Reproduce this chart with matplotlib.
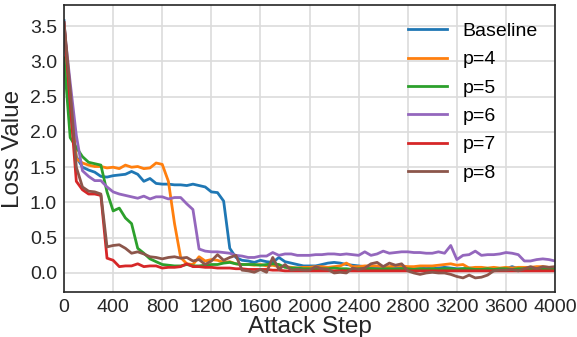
import numpy as np
import matplotlib
matplotlib.use("Agg")
import matplotlib.pyplot as plt

# attack steps, sampled every 50
steps = list(range(0, 4001, 50))

baseline = [3.58, 2.30, 1.65, 1.50, 1.46, 1.43, 1.37, 1.36, 1.38, 1.39,
            1.40, 1.44, 1.40, 1.30, 1.34, 1.27, 1.26, 1.26, 1.25, 1.25,
            1.24, 1.26, 1.24, 1.22, 1.15, 1.14, 1.02, 0.35, 0.22, 0.18,
            0.17, 0.15, 0.18, 0.16, 0.15, 0.22, 0.16, 0.14, 0.12, 0.10,
            0.10, 0.10, 0.12, 0.14, 0.15, 0.14, 0.12, 0.11, 0.10, 0.09,
            0.09, 0.08, 0.08, 0.08, 0.07, 0.07, 0.07, 0.06, 0.06, 0.07,
            0.06, 0.07, 0.08, 0.07, 0.06, 0.06, 0.07, 0.06, 0.06, 0.06,
            0.05, 0.06, 0.06, 0.09, 0.06, 0.07, 0.06, 0.08, 0.07, 0.07,
            0.08]

p4 = [3.50, 2.50, 1.62, 1.56, 1.53, 1.51, 1.51, 1.49, 1.50, 1.48,
      1.53, 1.50, 1.51, 1.48, 1.49, 1.56, 1.54, 1.30, 0.70, 0.22,
      0.13, 0.12, 0.23, 0.17, 0.19, 0.18, 0.15, 0.16, 0.13, 0.12,
      0.12, 0.11, 0.12, 0.10, 0.11, 0.09, 0.09, 0.08, 0.07, 0.08,
      0.08, 0.09, 0.09, 0.08, 0.09, 0.10, 0.14, 0.09, 0.09, 0.10,
      0.10, 0.10, 0.09, 0.09, 0.10, 0.10, 0.09, 0.09, 0.10, 0.10,
      0.10, 0.11, 0.12, 0.13, 0.11, 0.12, 0.07, 0.08, 0.08, 0.07,
      0.08, 0.07, 0.08, 0.07, 0.08, 0.08, 0.08, 0.09, 0.09, 0.08,
      0.08]

p5 = [3.05, 1.92, 1.78, 1.65, 1.57, 1.55, 1.53, 1.15, 0.88, 0.92,
      0.78, 0.70, 0.35, 0.28, 0.20, 0.16, 0.12, 0.11, 0.10, 0.10,
      0.12, 0.10, 0.10, 0.11, 0.12, 0.12, 0.14, 0.15, 0.13, 0.12,
      0.12, 0.12, 0.11, 0.12, 0.13, 0.12, 0.08, 0.07, 0.07, 0.06,
      0.06, 0.05, 0.06, 0.06, 0.07, 0.06, 0.06, 0.05, 0.06, 0.06,
      0.06, 0.05, 0.06, 0.06, 0.05, 0.06, 0.06, 0.05, 0.06, 0.05,
      0.06, 0.05, 0.06, 0.06, 0.05, 0.06, 0.06, 0.05, 0.05, 0.06,
      0.05, 0.06, 0.06, 0.05, 0.06, 0.06, 0.05, 0.06, 0.06, 0.05,
      0.06]

p6 = [3.50, 2.70, 1.95, 1.45, 1.37, 1.31, 1.31, 1.22, 1.15, 1.12,
      1.10, 1.08, 1.06, 1.09, 1.05, 1.08, 1.08, 1.05, 1.07, 1.07,
      0.98, 0.90, 0.34, 0.31, 0.30, 0.30, 0.29, 0.28, 0.25, 0.24,
      0.22, 0.22, 0.24, 0.24, 0.29, 0.25, 0.27, 0.27, 0.25, 0.25,
      0.25, 0.26, 0.26, 0.27, 0.27, 0.26, 0.27, 0.26, 0.25, 0.30,
      0.25, 0.27, 0.31, 0.28, 0.29, 0.30, 0.30, 0.29, 0.29, 0.28,
      0.28, 0.30, 0.28, 0.39, 0.19, 0.25, 0.26, 0.31, 0.25, 0.26,
      0.26, 0.27, 0.29, 0.28, 0.26, 0.17, 0.17, 0.19, 0.20, 0.19,
      0.17]

p7 = [3.55, 2.40, 1.30, 1.18, 1.12, 1.12, 1.10, 0.21, 0.18, 0.09,
      0.10, 0.10, 0.13, 0.09, 0.10, 0.10, 0.07, 0.08, 0.08, 0.09,
      0.13, 0.09, 0.09, 0.08, 0.08, 0.07, 0.07, 0.07, 0.06, 0.06,
      0.05, 0.05, 0.05, 0.05, 0.04, 0.04, 0.03, 0.03, 0.03, 0.03,
      0.03, 0.03, 0.03, 0.03, 0.03, 0.03, 0.03, 0.03, 0.03, 0.03,
      0.03, 0.03, 0.03, 0.03, 0.03, 0.03, 0.03, 0.03, 0.03, 0.03,
      0.03, 0.03, 0.03, 0.03, 0.03, 0.03, 0.03, 0.03, 0.03, 0.03,
      0.03, 0.03, 0.03, 0.03, 0.03, 0.03, 0.03, 0.03, 0.03, 0.03,
      0.03]

p8 = [3.55, 2.60, 1.50, 1.22, 1.16, 1.15, 1.12, 0.37, 0.39, 0.40,
      0.35, 0.28, 0.30, 0.27, 0.23, 0.22, 0.20, 0.22, 0.23, 0.21,
      0.22, 0.17, 0.19, 0.12, 0.17, 0.26, 0.18, 0.22, 0.25, 0.04,
      0.03, 0.01, 0.05, 0.01, 0.22, 0.05, 0.12, 0.04, 0.05, 0.04,
      0.04, 0.09, 0.06, 0.05, 0.00, 0.01, 0.00, 0.07, 0.05, 0.07,
      0.13, 0.15, 0.09, 0.14, 0.11, 0.13, 0.03, 0.00, -0.02, 0.00,
      0.01, 0.00, 0.00, -0.02, -0.05, -0.07, -0.03, -0.07, -0.06, -0.03,
      0.03, 0.04, 0.04, 0.05, 0.03, 0.06, 0.09, 0.06, 0.09, 0.08,
      0.09]

labels = ["Baseline", "p=4", "p=5", "p=6", "p=7", "p=8"]
series = [baseline, p4, p5, p6, p7, p8]
colors = ["#1f77b4", "#ff7f0e", "#2ca02c", "#9467bd", "#d62728", "#8c564b"]

plt.rcParams['font.family'] = ['Liberation Sans', 'DejaVu Sans']

fig = plt.figure(figsize=(5.77, 3.37), dpi=100)
ax = fig.add_axes([0.111, 0.1335, 0.851, 0.8515])

for lab, ys, c in zip(labels, series, colors):
    ax.plot(steps, ys, label=lab, color=c, linewidth=2)

ax.set_xlim(0, 4000)
ax.set_ylim(-0.27, 3.8)
ax.set_xticks(np.arange(0, 4001, 400))
ax.set_yticks(np.arange(0, 3.51, 0.5))
ax.tick_params(axis='both', length=0, labelsize=14, colors='#262626', pad=5)
ax.grid(True, color='#dcdcdc', linewidth=1.2)
ax.set_axisbelow(True)
for s in ax.spines.values():
    s.set_color('#262626')
    s.set_linewidth(1.2)

ax.set_xlabel('Attack Step', fontsize=17.5, color='#262626', labelpad=0)
ax.set_ylabel('Loss Value', fontsize=17.5, color='#262626', labelpad=4)
ax.legend(loc='upper right', frameon=False, fontsize=14, labelspacing=0.55)

fig.savefig('out.png', dpi=100)
